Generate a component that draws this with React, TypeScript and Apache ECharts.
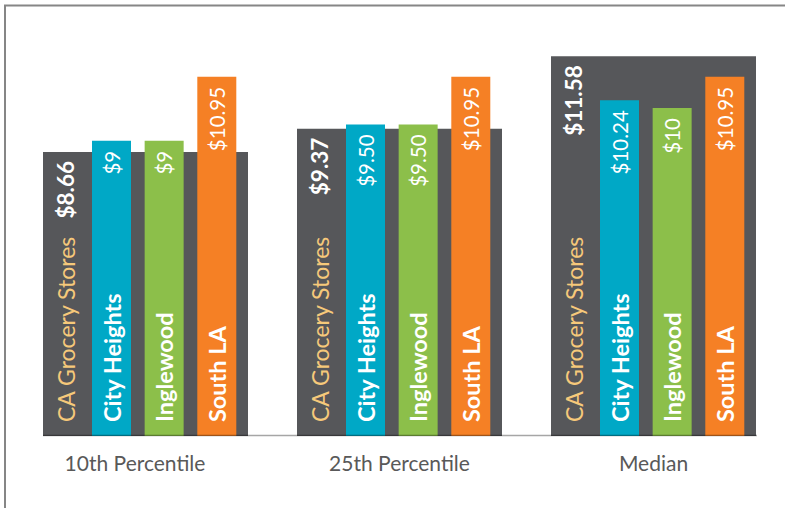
import React, { useEffect, useRef } from 'react';
import * as echarts from 'echarts';

const categories = ['10th Percentile', '25th Percentile', 'Median'];
const seriesNames = ['CA Grocery Stores', 'City Heights', 'Inglewood', 'South LA'];
const caGrocery = [8.66, 9.37, 11.58];
const cityHeights = [9, 9.5, 10.24];
const inglewood = [9, 9.5, 10];
const southLA = [10.95, 10.95, 10.95];

const GRAY = '#56575a';
const COLORS = ['#00a8c6', '#8cbf4a', '#f58025'];
const FONT = 'Lato';

const fmt = (p: any) => {
  const v = Number(p.value);
  return Number.isInteger(v) ? `$${v}` : `$${v.toFixed(2)}`;
};

export default function App() {
  const ref = useRef<HTMLDivElement>(null);
  useEffect(() => {
    const chart = echarts.init(ref.current!, null, { renderer: 'svg' });
    const colored = [cityHeights, inglewood, southLA];
    const series: any[] = [];
    series.push({
      type: 'bar', name: seriesNames[0], xAxisIndex: 0, yAxisIndex: 0, data: caGrocery,
      barWidth: 205, itemStyle: { color: GRAY }, z: 2,
      label: {
        show: true, position: 'insideTop', rotate: 90, align: 'right', verticalAlign: 'middle',
        distance: 9, offset: [0, -80], formatter: fmt, color: '#fff', fontWeight: 'bold',
        fontSize: 22.5, fontFamily: FONT,
      },
    });
    series.push({
      type: 'bar', name: seriesNames[0] + ' label', xAxisIndex: 1, yAxisIndex: 0, data: caGrocery,
      barWidth: 205, itemStyle: { color: 'transparent' }, silent: true, z: 3,
      label: {
        show: true, position: 'insideBottom', rotate: 90, align: 'left', verticalAlign: 'middle',
        distance: 14, offset: [0, -80], formatter: seriesNames[0], color: '#f6c97a',
        fontSize: 23, fontFamily: FONT,
      },
    });
    colored.forEach((d, i) => {
      series.push({
        type: 'bar', name: seriesNames[i + 1], xAxisIndex: 2, yAxisIndex: 1, data: d,
        barWidth: 39, barGap: '35%', itemStyle: { color: COLORS[i] }, z: 4,
        label: {
          show: true, position: 'insideTop', rotate: 90, align: 'right', verticalAlign: 'middle',
          distance: 10, formatter: fmt, color: '#fff', fontSize: 20.5, fontFamily: FONT,
        },
      });
    });
    colored.forEach((d, i) => {
      series.push({
        type: 'bar', name: seriesNames[i + 1] + ' label', xAxisIndex: 3, yAxisIndex: 1, data: d,
        barWidth: 39, barGap: '35%', itemStyle: { color: 'transparent' }, silent: true, z: 5,
        label: {
          show: true, position: 'insideBottom', rotate: 90, align: 'left', verticalAlign: 'middle',
          distance: 14, formatter: seriesNames[i + 1], color: '#fff', fontWeight: 'bold',
          fontSize: 23.5, fontFamily: FONT,
        },
      });
    });
    const hiddenX = (grid: number, pos: string) => ({
      type: 'category', data: categories, gridIndex: grid, position: pos, show: false,
    });
    const axisData = categories.map((c, i) =>
      i === 0 ? { value: c, textStyle: { padding: [0, 21, 0, 0] } } : c
    );
    const option: any = {
      animation: false,
      backgroundColor: '#fff',
      grid: [
        { left: 18.5, width: 762, top: 42.4, height: 393.6, outerBoundsMode: 'none' },
        { left: 37.15, width: 762, top: 42.4, height: 393.6, outerBoundsMode: 'none' },
      ],
      xAxis: [
        {
          type: 'category', data: axisData, gridIndex: 0, position: 'bottom',
          axisLine: { show: false }, axisTick: { show: false },
          axisLabel: { color: '#595959', fontSize: 21, margin: 16, fontFamily: FONT },
        },
        hiddenX(0, 'top'),
        hiddenX(1, 'bottom'),
        hiddenX(1, 'top'),
      ],
      yAxis: [
        { type: 'value', gridIndex: 0, min: 0, max: 12, show: false, splitLine: { show: false } },
        { type: 'value', gridIndex: 1, min: 0, max: 12, show: false, splitLine: { show: false } },
      ],
      series,
      graphic: [
        {
          type: 'polyline', z: 100,
          shape: { points: [[5, 508], [5, 5.5], [785, 5.5]] },
          style: { stroke: '#868686', lineWidth: 2, fill: null },
        },
        {
          type: 'line', z: 100,
          shape: { x1: 43, y1: 435.5, x2: 757, y2: 435.5 },
          style: { stroke: 'rgba(0,0,0,0.35)', lineWidth: 1.5 },
        },
      ],
    };
    chart.setOption(option);
    return () => chart.dispose();
  }, []);
  return (
    <div
      ref={ref}
      style={{ position: 'fixed', left: 0, top: 0, width: 785, height: 508, background: '#fff' }}
    />
  );
}
